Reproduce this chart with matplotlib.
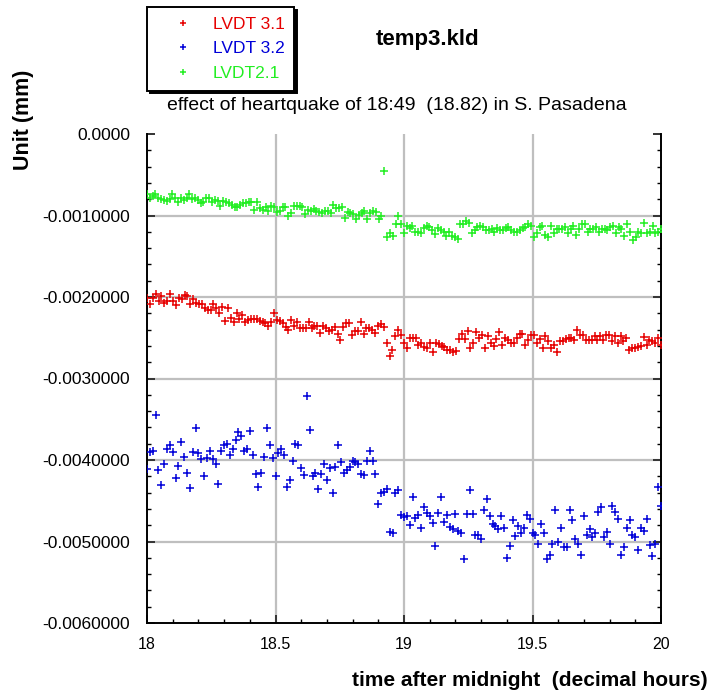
import numpy as np
import matplotlib
matplotlib.use('Agg')
import matplotlib.pyplot as plt
from matplotlib.ticker import FuncFormatter, MultipleLocator

plt.rcParams['font.family'] = ['Liberation Sans', 'DejaVu Sans']

# readings in micrometres, sampled evenly from 18.0 h to 20.0 h
t_start, t_end = 18.0, 20.0

lvdt31_um = [
    -2.01, -2.09, -2.01, -1.96, -2.05, -1.99, -2.07, -2.05, -1.96, -2.05,
    -2.10, -2.01, -2.02, -1.98, -1.99, -2.09, -2.02, -2.07, -2.09, -2.08,
    -2.13, -2.16, -2.16, -2.09, -2.13, -2.20, -2.12, -2.30, -2.13, -2.26,
    -2.31, -2.20, -2.27, -2.22, -2.31, -2.28, -2.27, -2.27, -2.27, -2.29,
    -2.31, -2.32, -2.35, -2.31, -2.20, -2.28, -2.30, -2.32, -2.37, -2.41,
    -2.28, -2.35, -2.31, -2.38, -2.38, -2.38, -2.31, -2.38, -2.36, -2.35,
    -2.44, -2.35, -2.38, -2.42, -2.40, -2.37, -2.45, -2.53, -2.37,
    -2.32, -2.32, -2.47, -2.42, -2.42, -2.31, -2.45, -2.38, -2.38, -2.41,
    -2.44, -2.35, -2.33, -2.37, -2.56, -2.73, -2.65, -2.48, -2.40, -2.47,
    -2.56, -2.62, -2.50, -2.50, -2.50, -2.59, -2.57, -2.61, -2.63, -2.56,
    -2.67, -2.57, -2.58, -2.60, -2.61, -2.65, -2.65, -2.68, -2.66, -2.51,
    -2.45, -2.51, -2.42, -2.62, -2.56, -2.43, -2.50, -2.47, -2.63, -2.48,
    -2.56, -2.60, -2.52, -2.43, -2.59, -2.50, -2.53, -2.57, -2.57, -2.50,
    -2.45, -2.45, -2.59, -2.53, -2.47, -2.47, -2.56,
    -2.52, -2.63, -2.48, -2.54, -2.62, -2.59, -2.67, -2.54, -2.54, -2.52,
    -2.50, -2.50, -2.53, -2.40, -2.47, -2.47, -2.53, -2.53, -2.53, -2.48,
    -2.53, -2.48, -2.53, -2.47, -2.47, -2.54, -2.48, -2.56, -2.48, -2.54,
    -2.50, -2.65, -2.62, -2.63, -2.61, -2.60, -2.49, -2.59, -2.53, -2.54,
    -2.56, -2.50, -2.59,
]

lvdt32_um = [
    -4.11, -3.90, -3.89, -3.45, -4.12, -4.31, -4.05, -3.86, -3.82, -3.90,
    -4.22, -4.07, -3.78, -3.96, -4.16, -4.34, -3.90, -3.61, -3.92, -3.99,
    -4.20, -3.98, -3.89, -3.99, -4.05, -4.29, -3.89, -3.82, -3.80, -3.94,
    -3.86, -3.75, -3.66, -3.70, -3.89, -3.86, -3.65, -3.94, -4.17, -4.33,
    -4.16, -3.96, -3.61, -3.82, -3.98, -4.20, -3.92, -3.86, -3.94, -4.33,
    -4.25, -4.01, -3.80, -3.82, -4.10, -4.19, -3.22, -3.63, -4.20, -4.16,
    -4.35, -4.17, -4.05, -4.24, -4.10, -4.41, -4.08, -3.82,
    -4.03, -4.16, -4.12, -4.09, -4.01, -4.03, -4.05, -4.17, -4.19, -4.01,
    -3.89, -4.01, -4.17, -4.54, -4.40, -4.39, -4.36, -4.88, -4.90, -4.40,
    -4.37, -4.68, -4.70, -4.69, -4.80, -4.45, -4.71, -4.68, -4.83, -4.58,
    -4.65, -4.69, -4.77, -5.05, -4.65, -4.46, -4.76, -4.68, -4.82, -4.85,
    -4.66, -4.87, -4.90, -5.22, -4.66, -4.37, -4.66, -4.92, -4.92, -4.97,
    -4.61, -4.48, -4.69, -4.78, -4.81, -4.85, -4.69, -4.83, -5.20, -5.05,
    -4.74, -4.93, -4.81, -4.90, -4.83, -4.68, -4.73, -4.90, -4.92, -5.03, -4.78,
    -4.90, -5.22, -5.16, -5.03, -4.61, -5.01, -4.83, -5.07, -5.07, -4.61,
    -4.74, -4.97, -5.03, -5.16, -4.69, -4.92, -4.85, -4.95, -4.90, -4.64,
    -4.58, -4.95, -4.88, -5.03, -4.57, -4.64, -4.73, -5.16, -5.07, -4.83,
    -4.74, -4.92, -4.95, -5.10, -4.83, -4.87, -4.73, -5.04, -5.18, -5.03,
    -4.33, -4.56,
]

lvdt21_um = [
    -0.74, -0.78, -0.76, -0.74, -0.78, -0.80, -0.81, -0.82, -0.80, -0.74,
    -0.78, -0.84, -0.79, -0.81, -0.78, -0.74, -0.80, -0.79, -0.81, -0.85,
    -0.84, -0.78, -0.78, -0.84, -0.81, -0.82, -0.88, -0.82, -0.84, -0.85,
    -0.87, -0.89, -0.90, -0.87, -0.85, -0.85, -0.84, -0.83, -0.93, -0.84,
    -0.91, -0.93, -0.90, -0.94, -0.88, -0.90, -0.96, -0.95, -0.90, -0.90,
    -1.00, -0.97, -0.88, -0.88, -0.88, -0.90, -0.98, -0.93, -0.94, -0.92,
    -0.95, -0.96, -0.97, -0.94, -0.95, -0.97, -0.87, -0.91, -0.91, -0.89,
    -1.03, -0.96, -0.97, -0.98, -1.04, -0.99, -0.97, -0.95, -1.04, -0.97,
    -0.94, -0.96, -1.04, -1.00, -0.46, -1.26, -1.22, -1.25, -1.10, -1.01,
    -1.10, -1.21, -1.13, -1.15, -1.13, -1.20, -1.20, -1.21, -1.15, -1.13,
    -1.14, -1.18, -1.23, -1.15, -1.18, -1.20, -1.25, -1.20, -1.25, -1.26,
    -1.29, -1.10, -1.11, -1.07, -1.09, -1.21, -1.18, -1.14, -1.13, -1.14,
    -1.18, -1.18, -1.17, -1.20, -1.15, -1.18, -1.18, -1.15, -1.14, -1.18,
    -1.20, -1.20, -1.18, -1.15, -1.14, -1.11, -1.13, -1.26, -1.21, -1.14, -1.13,
    -1.24, -1.26, -1.13, -1.21, -1.16, -1.16, -1.16, -1.14, -1.22, -1.16,
    -1.13, -1.24, -1.16, -1.11, -1.10, -1.20, -1.16, -1.16, -1.14, -1.20,
    -1.16, -1.16, -1.18, -1.14, -1.13, -1.22, -1.14, -1.16, -1.25, -1.10,
    -1.20, -1.30, -1.26, -1.20, -1.22, -1.09, -1.22, -1.20, -1.13, -1.22,
    -1.20, -1.16,
]

series = [
    ('LVDT 3.1', lvdt31_um, '#e60000'),
    ('LVDT 3.2', lvdt32_um, '#0000d8'),
    ('LVDT2.1', lvdt21_um, '#22ee22'),
]

# grid positions (no line along the top edge at 0)
grid_x = [18.5, 19.0, 19.5]
grid_y = [-0.001, -0.002, -0.003, -0.004, -0.005]

fig = plt.figure(figsize=(7.12, 6.96), dpi=100)
ax = fig.add_axes([147 / 712, 73 / 696, 514 / 712, 489 / 696])

for gx in grid_x:
    ax.axvline(gx, color='#bfbfbf', linewidth=1.6, zorder=0)
for gy in grid_y:
    ax.axhline(gy, color='#bfbfbf', linewidth=1.6, zorder=0)

handles = []
for label, vals, color in series:
    y = np.array(vals) / 1000.0  # um -> mm
    t = np.linspace(t_start, t_end, len(y))
    h, = ax.plot(t, y, linestyle='none', marker='+', ms=5.5, mew=1.1,
                 color=color, label=label, zorder=3)
    handles.append(h)

ax.set_xlim(18, 20)
ax.set_ylim(-0.006, 0)
ax.xaxis.set_major_locator(MultipleLocator(0.5))
ax.xaxis.set_minor_locator(MultipleLocator(0.1))
ax.yaxis.set_major_locator(MultipleLocator(0.001))
ax.yaxis.set_minor_locator(MultipleLocator(0.0002))
ax.xaxis.set_major_formatter(FuncFormatter(lambda v, p: '%g' % v))
ax.yaxis.set_major_formatter(
    FuncFormatter(lambda v, p: '0.0000' if abs(v) < 1e-9 else '%.7f' % v))

ax.spines['top'].set_visible(False)
for s in ('left', 'right', 'bottom'):
    ax.spines[s].set_linewidth(1.4)
ax.tick_params(which='both', direction='in', left=True, right=True,
               bottom=True, top=False)
ax.tick_params(axis='y', labelsize=12.5, pad=12)
ax.tick_params(axis='x', labelsize=11.5, pad=10)
ax.tick_params(which='major', length=6, width=1.4, color='#333333')
ax.tick_params(which='minor', length=3, width=1.0)

fig.text(0.6, 1 - 39 / 696, 'temp3.kld', ha='center', va='center',
         fontsize=16, fontweight='bold')
fig.text(397 / 712, 1 - 105 / 696,
         'effect of heartquake of 18:49  (18.82) in S. Pasadena',
         ha='center', va='center', fontsize=14)
fig.text(708 / 712, 1 - 681 / 696, 'time after midnight  (decimal hours)',
         ha='right', va='center', fontsize=15, fontweight='bold')
fig.text(24 / 712, 1 - 120 / 696, 'Unit (mm)', rotation=90,
         ha='center', va='center', fontsize=15.5, fontweight='bold')

leg = fig.legend(handles=handles, loc='upper left',
                 bbox_to_anchor=(147 / 712, 1 - 7 / 696), fontsize=12.5,
                 frameon=True, fancybox=False, markerscale=0.7,
                 handlelength=3.03, handletextpad=0.2, borderpad=0.55,
                 labelspacing=0.55, borderaxespad=0,
                 shadow={'color': 'black', 'alpha': 1.0})
leg.get_frame().set_edgecolor('black')
leg.get_frame().set_linewidth(1.4)
for txt, (_, _, color) in zip(leg.get_texts(), series):
    txt.set_color(color)

plt.savefig('out.png', dpi=100)
